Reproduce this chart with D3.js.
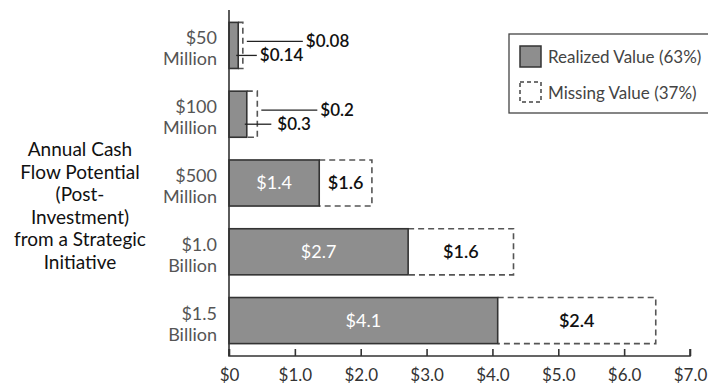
<!DOCTYPE html>
<html><head><meta charset="utf-8">
<script src="https://cdn.jsdelivr.net/npm/d3@7"></script>
<style>
html,body{margin:0;padding:0;background:#fff;}
svg{display:block;font-family:Lato,"Open Sans",sans-serif;}
</style></head>
<body>
<svg id="c" width="708" height="388"></svg>
<script>
// ---- data ----
const categories = ["$50 Million", "$100 Million", "$500 Million", "$1.0 Billion", "$1.5 Billion"];
const catLine1 = ["$50", "$100", "$500", "$1.0", "$1.5"];
const catLine2 = ["Million", "Million", "Million", "Billion", "Billion"];
const realized = [0.14, 0.27, 1.37, 2.72, 4.08];        // drawn length of realized bar
const missing = [0.07, 0.16, 0.8, 1.6, 2.4];             // drawn length of dashed box
const realizedLabels = ["$0.14", "$0.3", "$1.4", "$2.7", "$4.1"];
const missingLabels = ["$0.08", "$0.2", "$1.6", "$1.6", "$2.4"];
const xTicks = [0, 1, 2, 3, 4, 5, 6, 7];
const xTickLabels = ["$0", "$1.0", "$2.0", "$3.0", "$4.0", "$5.0", "$6.0", "$7.0"];
const titleLines = ["Annual Cash", "Flow Potential", "(Post-", "Investment)", "from a Strategic", "Initiative"];
const legendLabels = ["Realized Value (63%)", "Missing Value (37%)"];

// ---- chart ----
const svg = d3.select("#c");
const x = d3.scaleLinear().domain([0, 7]).range([229, 690]);
const y = d3.scaleBand().domain(categories).range([10, 356]).paddingInner(0.33).paddingOuter(0.18);
const bw = y.bandwidth();

const rows = categories.map((c, i) => ({c, i, r: realized[i], m: missing[i]}));

// dashed missing boxes (top, right, bottom)
svg.append("g").selectAll("path").data(rows).join("path")
  .attr("d", d => {
    const x0 = x(d.r), x1 = x(d.r + d.m), y0 = y(d.c), y1 = y0 + bw;
    return `M${x0},${y0}H${x1}V${y1}H${x0}`;
  })
  .attr("fill", "none").attr("stroke", "#555").attr("stroke-width", 1.6)
  .attr("stroke-dasharray", "6,4");

// realized bars
svg.append("g").selectAll("rect").data(rows).join("rect")
  .attr("x", x(0)).attr("y", d => y(d.c))
  .attr("width", d => x(d.r) - x(0)).attr("height", bw)
  .attr("fill", "#8e8e8e").attr("stroke", "#333").attr("stroke-width", 1.6);

// axes
const xAxis = d3.axisBottom(x).tickValues(xTicks).tickSize(-7).tickFormat((d, i) => xTickLabels[i]).tickPadding(13);
const gx = svg.append("g").attr("transform", "translate(0,356)").call(xAxis);
gx.select(".domain").attr("d", `M${x(0)},-7V0H${x(7)}V-7`).attr("stroke", "#333").attr("stroke-width", 1.6);
gx.selectAll(".tick line").attr("stroke", "#333").attr("stroke-width", 1.6);
gx.selectAll(".tick text").attr("font-size", 17).attr("fill", "#333").attr("font-family", "Lato,sans-serif");

svg.append("line").attr("x1", x(0)).attr("x2", x(0)).attr("y1", 10).attr("y2", 356)
  .attr("stroke", "#333").attr("stroke-width", 1.6);

// category labels
const cl = svg.append("g").selectAll("text").data(rows).join("text")
  .attr("text-anchor", "end").attr("font-size", 18).attr("fill", "#555");
cl.append("tspan").attr("x", 217).attr("y", d => y(d.c) + bw / 2 - 1).text(d => catLine1[d.i]);
cl.append("tspan").attr("x", 217).attr("y", d => y(d.c) + bw / 2 + 20).text(d => catLine2[d.i]);

// title
svg.append("g").selectAll("text").data(titleLines).join("text")
  .attr("x", 80).attr("y", (d, i) => 156 + i * 22.6).attr("text-anchor", "middle")
  .attr("font-size", 19).attr("fill", "#111").text(d => d);

// labels inside bars (large rows)
const big = rows.filter(d => d.i >= 2);
svg.append("g").selectAll("text").data(big).join("text")
  .attr("x", d => x(d.r / 2)).attr("y", d => y(d.c) + bw / 2 + 6)
  .attr("text-anchor", "middle").attr("font-size", 18).attr("fill", "#fff")
  .text(d => realizedLabels[d.i]);
svg.append("g").selectAll("text").data(big).join("text")
  .attr("x", d => x(d.r + d.m / 2)).attr("y", d => y(d.c) + bw / 2 + 6)
  .attr("text-anchor", "middle").attr("font-size", 18).attr("font-weight", 600).attr("fill", "#111")
  .text(d => missingLabels[d.i]);

// leader-line labels (small rows)
const small = rows.filter(d => d.i < 2);
const lead = svg.append("g");
small.forEach(d => {
  const cy = y(d.c) + bw / 2;
  const xm = x(d.r + d.m);
  // missing label
  lead.append("line").attr("x1", xm + 4).attr("x2", xm + 60).attr("y1", cy - 4).attr("y2", cy - 4)
    .attr("stroke", "#222").attr("stroke-width", 1.3);
  lead.append("text").attr("x", xm + 63).attr("y", cy + 2).attr("font-size", 17).attr("font-weight", 600)
    .attr("fill", "#111").text(missingLabels[d.i]);
  // realized label
  lead.append("line").attr("x1", x(d.r) - 2).attr("x2", xm + 14).attr("y1", cy + 10).attr("y2", cy + 10)
    .attr("stroke", "#222").attr("stroke-width", 1.3);
  lead.append("text").attr("x", xm + 17 + (d.i === 1 ? 3 : 0)).attr("y", cy + 16).attr("font-size", 17).attr("font-weight", 600)
    .attr("fill", "#111").text(realizedLabels[d.i]);
});

// legend
const lg = svg.append("g");
lg.append("rect").attr("x", 509).attr("y", 34).attr("width", 220).attr("height", 79)
  .attr("fill", "#fff").attr("stroke", "#444").attr("stroke-width", 1.3);
lg.append("rect").attr("x", 520).attr("y", 46).attr("width", 21).attr("height", 21)
  .attr("fill", "#8e8e8e").attr("stroke", "#333").attr("stroke-width", 1.5);
lg.append("rect").attr("x", 520).attr("y", 82).attr("width", 21).attr("height", 20)
  .attr("fill", "none").attr("stroke", "#444").attr("stroke-width", 1.5).attr("stroke-dasharray", "4,3");
lg.selectAll("text").data(legendLabels).join("text")
  .attr("x", 548).attr("y", (d, i) => 63 + i * 36).attr("font-size", 17).attr("fill", "#444").text(d => d);
</script>
</body></html>
